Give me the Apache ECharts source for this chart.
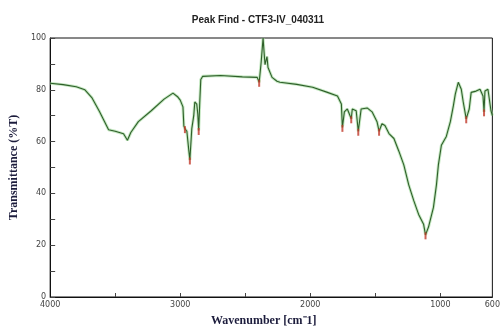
<!DOCTYPE html>
<html>
<head>
<meta charset="utf-8">
<script src="https://cdn.jsdelivr.net/npm/echarts@6/dist/echarts.min.js"></script>
<style>html,body{margin:0;padding:0;background:#fff}#c{width:503px;height:332px}</style>
</head>
<body>
<div id="c"></div>
<script>
const wavenumbers = [4000,3900,3800,3733,3680,3620,3551,3500,3436,3406,3380,3322,3223,3124,3056,3018,3000,2979,2972,2964,2949,2934,2926,2911,2896,2888,2873,2865,2858,2850,2842,2827,2690,2522,2408,2393,2378,2363,2355,2348,2333,2325,2294,2256,2233,2104,1982,1868,1791,1761,1753,1738,1715,1700,1685,1677,1647,1631,1609,1563,1525,1487,1471,1449,1426,1395,1357,1319,1281,1243,1205,1167,1129,1114,1091,1053,1030,1015,992,954,923,900,885,862,839,824,801,778,763,725,695,672,664,657,634,611,600];
const transmittance = [82.5,82.0,81.2,80.0,77,71.5,64.6,64,63,60.5,63.5,67.7,71.9,76.4,78.7,77.2,76,73.4,66,65,64,56.6,52.9,65,70,75.3,74.5,70.7,64.3,75,84,85.2,85.5,85,84.8,82.9,90.5,100,94.3,89.7,92.8,88.6,84.8,83.3,82.9,82.1,81,79,77.6,74.5,65.5,71.5,72.6,71.9,68.8,72.6,71.9,64,72.6,73,71.5,67.7,64,66.9,66.2,63.1,61.2,56.3,51,43.3,37.3,31.9,28.1,24,27,34.6,43.3,51,58.6,62,67.7,73.8,78.3,82.9,80.2,75.3,68.8,72.6,79,79.5,80.2,77.6,71.5,79.5,80.2,72,70];
const peakWave = [2964,2926,2858,2393,1753,1685,1631,1471,1114,801,664];
const peakT = [65,52.9,64.3,82.9,65.5,68.8,64,64,24,68.8,71.5];
const xLabels = [4000,3000,2000,1000,600];
const xTicks = [3500,3000,2500,2000,1500,1000];

const lineData = wavenumbers.map((w,i)=>[w,transmittance[i]]);
const peakData = peakWave.map((w,i)=>[w,peakT[i]]);

const chart = echarts.init(document.getElementById('c'), null, {renderer:'canvas'});
chart.setOption({
  animation:false,
  backgroundColor:'#fff',
  title:{text:'Peak Find - CTF3-IV_040311',left:253,top:10,textAlign:'center',
    textStyle:{fontFamily:'Liberation Sans, Arial',fontSize:10,fontWeight:'bold',color:'#222'}},
  grid:{left:48,right:10,top:38,bottom:31,show:true,borderColor:'#111',borderWidth:1},
  xAxis:{type:'value',inverse:true,min:600,max:4000,
    name:'Wavenumber [cm\u207B1]',nameLocation:'middle',nameGap:18,
    nameTextStyle:{fontFamily:'Liberation Serif, Times New Roman',fontSize:12,fontWeight:'bold',color:'#1c1c3c',padding:[0,0,0,-15]},
    axisLine:{lineStyle:{color:'#111',width:1}},
    axisTick:{inside:true,length:4,customValues:xTicks,lineStyle:{color:'#444'}},
    axisLabel:{customValues:xLabels,fontFamily:'DejaVu Sans',fontSize:8,color:'#444',margin:4,
      formatter:v=>String(v)},
    splitLine:{show:false}},
  yAxis:{type:'value',min:0,max:100,interval:10,
    name:'Transmittance (%T)',nameLocation:'middle',nameGap:30,
    nameTextStyle:{fontFamily:'Liberation Serif, Times New Roman',fontSize:12,fontWeight:'bold',color:'#1c1c3c'},
    axisLine:{show:true,lineStyle:{color:'#111',width:1}},
    axisTick:{show:true,inside:true,length:5,lineStyle:{color:'#444'}},
    axisLabel:{fontFamily:'DejaVu Sans',fontSize:8,color:'#444',margin:4,
      formatter:v=> (v%20===0? String(v):'')},
    splitLine:{show:false}},
  series:[
    {type:'line',data:lineData,showSymbol:false,lineStyle:{color:'#9fd89a',width:3,opacity:0.6},z:1,silent:true},
    {type:'line',data:lineData,showSymbol:false,lineStyle:{color:'#2f5f2a',width:1.1},z:2},
    {type:'scatter',data:peakData,symbol:'rect',symbolSize:[2,7],symbolOffset:[0,1],itemStyle:{color:'#c0392b'},z:3}
  ]
});
</script>
</body>
</html>
